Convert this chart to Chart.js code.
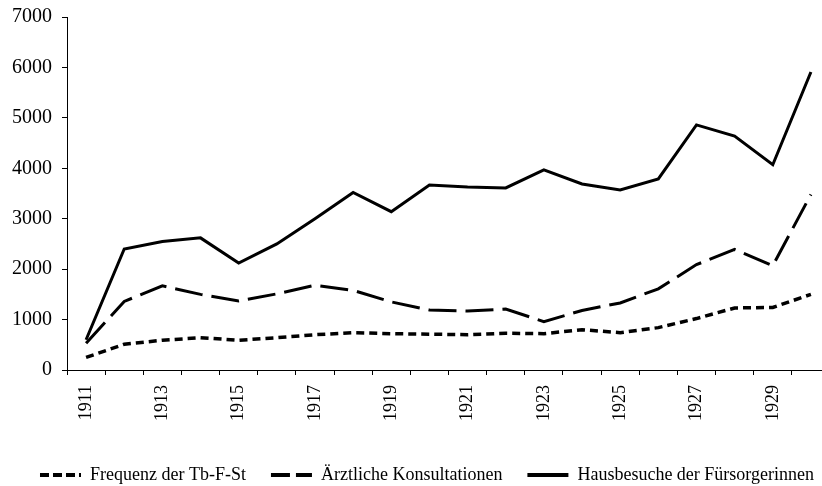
<!DOCTYPE html>
<html>
<head>
<meta charset="utf-8">
<script src="https://cdn.jsdelivr.net/npm/chart.js@4/dist/chart.umd.min.js"></script>
<style>
  html, body { margin: 0; padding: 0; overflow: hidden; background: #fff; }
  #wrap { width: 830px; height: 486px; }
</style>
</head>
<body>
<div id="wrap"><canvas id="chart" width="830" height="486"></canvas></div>
<script>
var years = ['1911', '1912', '1913', '1914', '1915', '1916', '1917', '1918', '1919', '1920',
             '1921', '1922', '1923', '1924', '1925', '1926', '1927', '1928', '1929', '1930'];
var frequenz = [250, 510, 590, 640, 590, 640, 700, 740, 720, 710,
                700, 730, 720, 800, 740, 840, 1020, 1230, 1240, 1500];
var konsultationen = [530, 1360, 1670, 1500, 1370, 1510, 1680, 1580, 1350, 1190,
                      1170, 1210, 960, 1180, 1330, 1610, 2090, 2390, 2070, 3480];
var hausbesuche = [600, 2400, 2550, 2620, 2120, 2500, 3000, 3520, 3140, 3670,
                   3630, 3610, 3970, 3690, 3570, 3790, 4860, 4640, 4070, 5910];

var serif = '"Liberation Serif", "Times New Roman", serif';
var legendDashes = [[9, 4], [19, 6], []];

// nudge the legend a bit to the right, like in the original
var legendShift = {
    id: 'legendShift',
    afterLayout: function(chart) {
        chart.legend.left += 12;
        chart.legend.right += 12;
    }
};

var ctx = document.getElementById('chart').getContext('2d');
var chart = new Chart(ctx, {
    type: 'line',
    data: {
        labels: years,
        datasets: [
            {
                label: 'Frequenz der Tb-F-St',
                data: frequenz,
                borderColor: '#000',
                backgroundColor: 'transparent',
                borderWidth: 3.5,
                borderDash: [8, 5],
                pointRadius: 0,
                tension: 0
            },
            {
                label: 'Ärztliche Konsultationen',
                data: konsultationen,
                borderColor: '#000',
                backgroundColor: 'transparent',
                borderWidth: 3,
                borderDash: [28, 9],
                pointRadius: 0,
                tension: 0
            },
            {
                label: 'Hausbesuche der Fürsorgerinnen',
                data: hausbesuche,
                borderColor: '#000',
                backgroundColor: 'transparent',
                borderWidth: 3,
                pointRadius: 0,
                tension: 0
            }
        ]
    },
    options: {
        responsive: false,
        animation: false,
        layout: { padding: { top: 17, right: 0, left: 0, bottom: -8 } },
        scales: {
            x: {
                offset: true,
                grid: {
                    offset: true,
                    drawOnChartArea: false,
                    color: '#000',
                    tickLength: 5
                },
                border: { color: '#000', width: 1 },
                ticks: {
                    autoSkip: false,
                    minRotation: 90,
                    maxRotation: 90,
                    color: '#000',
                    padding: 10,
                    font: { family: serif, size: 18 },
                    callback: function(value, index) {
                        return index % 2 === 0 ? this.getLabelForValue(value) : '';
                    }
                },
                afterFit: function(scale) {
                    scale.height = 71;
                    scale.paddingLeft = 0;
                    scale.paddingRight = 0;
                }
            },
            y: {
                min: 0,
                max: 7000,
                grid: {
                    drawOnChartArea: false,
                    color: '#000',
                    tickLength: 5
                },
                border: { color: '#000', width: 1 },
                ticks: {
                    stepSize: 1000,
                    color: '#000',
                    padding: 10,
                    font: { family: serif, size: 20 },
                    callback: function(value) { return String(value); }
                },
                afterFit: function(scale) {
                    scale.width = 67;
                    scale.paddingTop = 0;
                    scale.paddingBottom = 0;
                }
            }
        },
        plugins: {
            tooltip: { enabled: false },
            legend: {
                position: 'bottom',
                labels: {
                    color: '#000',
                    usePointStyle: true,
                    pointStyle: 'line',
                    pointStyleWidth: 41,
                    padding: 25,
                    font: { family: serif, size: 18 },
                    generateLabels: function(chart) {
                        var items = Chart.defaults.plugins.legend.labels.generateLabels(chart);
                        items.forEach(function(item, i) {
                            item.pointStyle = 'line';
                            item.lineWidth = 4;
                            item.lineDash = legendDashes[i];
                        });
                        return items;
                    }
                }
            }
        }
    },
    plugins: [legendShift]
});
</script>
</body>
</html>
